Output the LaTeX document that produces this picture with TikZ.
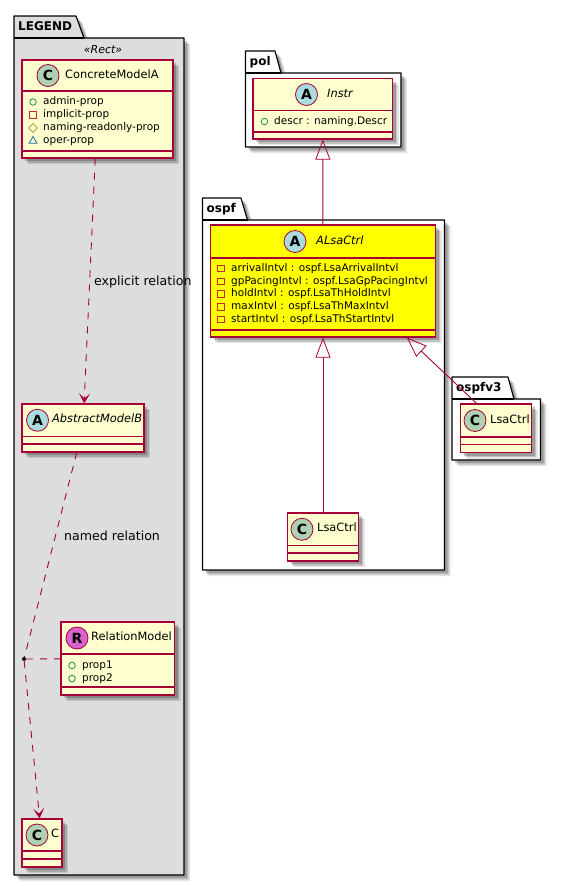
\documentclass[tikz,border=0pt]{standalone}
\usepackage{fontspec}
\setmainfont{DejaVu Sans}
\usetikzlibrary{arrows.meta,shadows,shapes.geometric}
\definecolor{umlline}{HTML}{A80036}
\definecolor{umlfill}{HTML}{FEFECE}
\definecolor{spotC}{HTML}{ADD1B2}
\definecolor{spotA}{HTML}{A9DCDF}
\definecolor{spotR}{HTML}{DA62CE}
\definecolor{legendbg}{HTML}{DDDDDD}
\definecolor{hiliteyellow}{HTML}{FFFF00}
\definecolor{iconpub}{HTML}{038048}
\definecolor{iconpriv}{HTML}{C82930}
\definecolor{iconproto}{HTML}{B38D22}
\definecolor{iconpack}{HTML}{1963A0}
\tikzset{
  softshadow/.style={drop shadow={shadow xshift=6pt,shadow yshift=-6pt,opacity=.1,fill=black},
                     drop shadow={shadow xshift=4.5pt,shadow yshift=-4.5pt,opacity=.15,fill=black},
                     drop shadow={shadow xshift=3pt,shadow yshift=-3pt,opacity=.2,fill=black}},
  pkgbox/.style={draw=black, line width=1.15pt, line join=round, softshadow},
  classbox/.style={draw=umlline, line width=1.15pt, inner sep=0pt, softshadow},
  sepline/.style={draw=umlline, line width=1.15pt},
  spot/.style={circle, draw=umlline, line width=.8pt, minimum size=22pt, inner sep=0pt, font=\fontsize{14}{15}\selectfont\bfseries},
  classname/.style={anchor=mid west, inner sep=0pt, font=\fontsize{11.4}{13}\selectfont},
  linklabel/.style={anchor=mid west, inner sep=0pt, font=\fontsize{12.6}{14}\selectfont},
  attrtext/.style={anchor=mid west, inner sep=0pt, font=\fontsize{10.5}{12}\selectfont},
  pubicon/.style={circle, draw=iconpub, line width=.7pt, minimum size=6.5pt, inner sep=0pt},
  privicon/.style={rectangle, draw=iconpriv, line width=.7pt, minimum size=6.5pt, inner sep=0pt},
  protoicon/.style={diamond, draw=iconproto, line width=.7pt, minimum size=9pt, inner sep=0pt},
  packicon/.style={regular polygon, regular polygon sides=3, draw=iconpack, line width=.7pt, minimum size=9pt, inner sep=0pt},
  depline/.style={draw=umlline, line width=.9pt, dash pattern=on 7pt off 7pt, -{Stealth[length=10pt,width=11pt,inset=5pt]}},
  relline/.style={draw=umlline, line width=.9pt, dash pattern=on 7pt off 7pt},
  isaline/.style={draw=umlline, line width=.9pt, {Triangle[open,length=20pt,width=15pt,line width=.8pt]}-},
}
\begin{document}
\begin{tikzpicture}[x=1pt, y=-1pt]
    \useasboundingbox (0,0) rectangle (561,886);
    % packages
    \foreach \n/\l/\r/\tt/\tp/\b/\ta/\tb/\col/\ttl in {%
      legendpkg/14/184/16/38/875/76/84/legendbg/LEGEND,
      polpkg/245.5/401/51/73/147/275/281/white/pol,
      ospfpkg/202.5/444.5/198/220/570/241/247.5/white/ospf,
      ospfvpkg/452/540.5/377/399/460/508/514/white/ospfv3} {
      \draw[pkgbox, fill=\col] (\l,\b) -- (\l,\tt) -- (\ta,\tt) -- (\tb,\tp) -- (\r,\tp) -- (\r,\b) -- cycle;
      \draw[line width=1.15pt] (\l,\tp) -- (\tb,\tp);
      \node[anchor=mid west, inner sep=0pt, font=\fontsize{12}{14}\selectfont\bfseries] (\n) at (\l+4,{(\tt+\tp)/2+1}) {\ttl};
    }
    \node[inner sep=0pt, font=\fontsize{11}{13}\selectfont\itshape] (legendstereo) at (103,49.5) {«Rect»};
    % classes
    \foreach \n/\xa/\ya/\xb/\yb/\sa/\sb/\sx/\ltr/\col/\bg/\tx/\ttl in {%
      concreteA/22/60/173/158/91/151/48/C/spotC/umlfill/65/ConcreteModelA,
      abstractB/22/404/144/452/436.5/444/37.5/A/spotA/umlfill/52/{\itshape AbstractModelB},
      relModel/61/622/174.5/695/654/687/77/R/spotR/umlfill/91/RelationModel,
      classC/22/819/62/867/851/859/37/C/spotC/umlfill/51/C,
      instr/253/78.5/392.5/139/110.5/132/306.5/A/spotA/umlfill/327/{\itshape Instr},
      alsaCtrl/210.5/225/435.5/337/258/330/295/A/spotA/hiliteyellow/316/{\itshape ALsaCtrl},
      lsaCtrl/287.5/513/358.5/561/545.5/553/302/C/spotC/umlfill/317/LsaCtrl,
      lsaCtrlv/460.5/404/531.5/452.5/437/444.5/475/C/spotC/umlfill/490/LsaCtrl} {
      \node[classbox, fill=\bg, minimum width=\xb-\xa, minimum height=\yb-\ya] (\n)
        at ({(\xa+\xb)/2},{(\ya+\yb)/2}) {};
      \draw[sepline] (\xa,\sa) -- (\xb,\sa);
      \draw[sepline] (\xa,\sb) -- (\xb,\sb);
      \node[spot, fill=\col] (\n spot) at (\sx,{(\ya+\sa)/2}) {\ltr};
      \node[classname] (\n name) at (\tx,{(\ya+\sa)/2}) {\ttl};
    }
    % attributes
    \foreach \a/\ic/\ix/\tx/\y/\t in {%
      a/pubicon/33/43/102/admin-prop, b/privicon/33/43/115/implicit-prop,
      c/protoicon/33/43/128/naming-readonly-prop, d/packicon/33/43/141/oper-prop,
      e/pubicon/72/82/665.5/prop1, f/pubicon/72/82/678.5/prop2,
      g/pubicon/264.5/274/121.5/descr : naming.Descr,
      h/privicon/221/231/268.5/arrivalIntvl : ospf.LsaArrivalIntvl,
      i/privicon/221/231/281.5/gpPacingIntvl : ospf.LsaGpPacingIntvl,
      j/privicon/221/231/294/holdIntvl : ospf.LsaThHoldIntvl,
      k/privicon/221/231/307/maxIntvl : ospf.LsaThMaxIntvl,
      l/privicon/221/231/319.5/startIntvl : ospf.LsaThStartIntvl} {
      \node[\ic] (icon\a) at (\ix,\y) {};
      \node[attrtext] (attr\a) at (\tx,\y) {\t};
    }
    % relations
    \node[circle, fill=black, inner sep=0pt, minimum size=4pt] (relpoint) at (24,659) {};
    \draw[depline] (concreteA) -- (abstractB);
    \draw[relline] (abstractB) -- (relpoint);
    \draw[depline] (relpoint) -- (classC);
    \draw[relline] (relpoint) -- (relModel);
    \draw[isaline] (instr) -- (alsaCtrl);
    \draw[isaline] (alsaCtrl) -- (lsaCtrl);
    \draw[isaline] (alsaCtrl.-34.3) -- (lsaCtrlv.128);
    \node[linklabel] (explicitlab) at (94,283) {explicit relation};
    \node[linklabel] (namedlab) at (64,537.5) {named relation};
  \end{tikzpicture}
\end{document}
